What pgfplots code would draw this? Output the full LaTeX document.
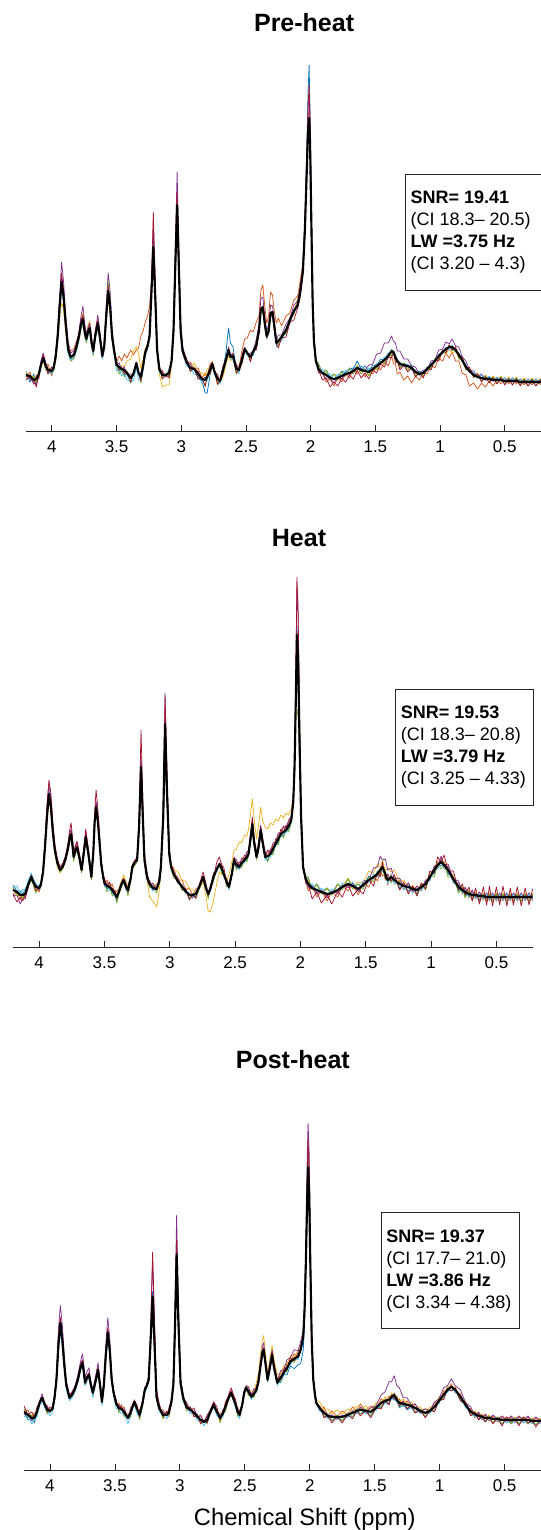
\documentclass[border=0pt]{standalone}
\usepackage{fontspec}
\setmainfont{Liberation Sans}
\usepackage{pgfplots}
\usepackage{pgfplotstable}
\pgfplotsset{compat=1.18}

\definecolor{cB}{rgb}{0,0.447,0.741}
\definecolor{cO}{rgb}{0.85,0.325,0.098}
\definecolor{cY}{rgb}{0.929,0.694,0.125}
\definecolor{cP}{rgb}{0.494,0.184,0.556}
\definecolor{cG}{rgb}{0.466,0.674,0.188}
\definecolor{cL}{rgb}{0.301,0.745,0.933}
\definecolor{cR}{rgb}{0.635,0.078,0.184}

\pgfplotstableread{
x k cb co cy cp cg cl cr
4.20 56 60 51 59 51 58 57 55
4.17 55 49 59 53 54 54 52 52
4.14 51 57 47 55 47 54 52 51
4.12 52 46 56 48 48 49 51 44
4.10 57 61 52 60 54 57 58 58
4.085 66 64 68 63 70 65 62 67
4.067 73 75 72 70 78 71 74 76
4.05 66 68 63 64 70 62 67 65
4.03 61 57 67 58 60 59 59 57
4.00 60 64 55 59 58 58 57 64
3.985 64 61 66 62 65 60 63 62
3.97 75 73 77 70 80 74 72 78
3.955 95 92 97 88 101 94 90 98
3.94 125 126 124 112 135 120 118 130
3.925 149 152 150 128 169 145 143 158
3.91 135 137 138 122 150 130 128 142
3.895 110 108 114 100 120 106 105 113
3.875 82 80 88 78 90 79 77 84
3.855 74 72 80 70 78 70 71 75
3.83 76 74 82 75 80 72 73 77
3.81 84 82 90 86 88 80 81 85
3.79 95 93 98 100 100 91 92 96
3.775 107 105 110 112 115 102 104 110
3.76 112 110 115 118 125 106 108 116
3.745 98 96 101 104 106 94 95 100
3.733 92 90 96 95 97 88 90 93
3.72 100 98 103 106 104 96 98 101
3.707 103 101 106 110 108 99 100 104
3.693 88 86 91 92 93 84 85 88
3.68 80 78 83 84 82 75 77 79
3.665 95 93 97 100 100 92 91 96
3.645 108 106 110 113 116 104 104 110
3.63 95 93 97 99 100 92 91 95
3.61 75 73 77 79 78 72 72 74
3.595 85 83 86 88 90 84 81 86
3.58 115 113 114 112 126 118 110 118
3.565 140 140 138 130 158 150 136 145
3.55 125 124 124 118 140 130 120 128
3.535 95 93 96 92 102 96 91 97
3.52 81 79 84 80 85 80 77 82
3.50 66 66 69 68 66 66 60 70
3.48 64 60 75 63 68 57 62 61
3.46 62 62 70 66 61 61 55 64
3.44 61 56 77 64 64 54 58 57
3.42 58 57 73 70 57 58 51 60
3.39 53 48 81 72 57 48 50 49
3.37 57 57 76 80 56 58 50 59
3.347 68 66 81 84 69 65 63 67
3.33 58 58 83 78 58 58 51 60
3.312 54 49 95 62 58 48 51 50
3.295 65 63 100 72 66 62 60 64
3.28 78 76 108 82 80 75 74 78
3.26 85 84 115 88 87 83 82 86
3.245 95 96 125 95 98 92 92 96
3.23 140 145 150 135 150 138 136 150
3.216 184 196 180 176 206 186 182 219
3.20 130 136 132 126 142 130 128 145
3.187 81 84 82 78 86 80 79 85
3.17 62 65 61 57 62 64 58 66
3.147 56 55 61 44 59 52 57 52
3.12 56 57 54 46 54 57 55 56
3.094 58 55 62 46 60 54 61 53
3.075 70 70 69 65 72 69 70 71
3.06 100 102 97 95 106 99 98 104
3.045 170 176 165 160 190 172 168 180
3.032 226 232 222 218 259 228 224 240
3.02 170 175 166 162 190 172 168 180
3.005 100 103 98 95 110 101 99 105
2.99 80 81 80 78 85 80 79 82
2.96 69 72 69 70 70 71 65 73
2.93 63 60 69 63 67 59 63 60
2.90 62 62 62 68 61 64 57 63
2.87 57 53 63 59 60 53 56 52
2.84 52 50 53 58 51 53 48 53
2.815 51 38 58 55 54 44 51 45
2.80 54 38 55 62 53 55 50 55
2.775 62 58 68 64 65 57 62 58
2.76 67 66 68 70 69 64 65 67
2.745 60 60 59 63 60 60 56 62
2.72 52 48 57 48 55 46 52 47
2.70 50 50 50 50 49 50 47 50
2.68 60 60 64 53 63 55 61 56
2.655 71 78 72 66 73 69 70 71
2.635 81 103 82 76 84 79 80 82
2.62 74 88 75 70 77 73 73 74
2.60 75 84 73 74 76 77 71 78
2.575 62 62 67 58 66 57 62 58
2.555 61 64 63 59 60 63 57 61
2.53 72 70 81 68 76 68 72 68
2.51 82 82 92 80 84 80 81 81
2.49 78 79 93 79 77 79 75 79
2.465 74 71 101 71 78 70 75 69
2.445 79 80 99 80 80 81 75 80
2.42 86 83 109 83 92 82 86 81
2.40 100 99 115 98 106 98 98 98
2.385 122 120 140 118 132 120 119 120
2.37 124 121 146 120 134 122 121 122
2.355 108 106 125 104 114 106 105 106
2.34 95 93 108 92 100 93 92 93
2.325 100 98 115 97 106 98 97 98
2.31 118 116 139 114 126 116 115 116
2.295 119 117 136 115 125 117 116 117
2.28 104 102 118 101 109 102 101 100
2.265 88 88 108 88 90 90 84 87
2.25 90 86 113 86 96 86 90 83
2.225 94 95 105 95 96 96 90 93
2.19 101 98 115 100 107 97 101 94
2.16 111 112 118 114 113 113 107 109
2.13 120 118 131 120 126 116 120 111
2.10 126 128 135 132 130 129 123 123
2.08 140 141 151 145 146 140 139 134
2.06 160 163 168 168 166 161 158 156
2.045 200 208 205 212 210 204 198 200
2.03 260 280 262 265 280 268 258 272
2.02 300 340 305 295 322 300 300 325
2.012 313 366 322 300 336 306 312 346
2.005 290 320 296 282 310 288 290 315
1.995 210 225 212 205 222 210 210 222
1.985 130 135 132 128 136 130 129 134
1.975 90 92 92 88 93 90 89 92
1.96 70 71 72 68 72 70 69 71
1.94 62 66 58 65 58 68 60 62
1.91 58 58 58 57 58 58 62 51
1.88 56 61 49 59 52 61 56 53
1.85 53 54 52 52 52 52 57 44
1.82 52 57 45 57 48 57 52 49
1.79 53 54 53 53 54 51 57 45
1.76 55 60 49 59 52 59 55 53
1.73 57 58 57 57 58 55 61 49
1.70 58 63 53 62 56 62 58 56
1.67 60 62 61 60 63 57 64 52
1.64 63 70 57 66 63 65 63 61
1.61 61 62 61 60 65 57 65 53
1.58 60 65 54 62 61 62 60 58
1.55 59 60 60 56 66 55 63 52
1.52 62 66 57 63 67 64 61 61
1.49 65 65 65 62 77 61 68 58
1.46 68 72 61 69 78 70 67 67
1.43 71 71 69 68 88 67 74 64
1.40 75 78 65 76 88 77 74 74
1.375 80 78 75 76 95 75 82 73
1.36 79 80 67 79 90 80 77 79
1.345 74 71 67 70 88 69 76 68
1.33 70 71 57 70 80 71 68 70
1.31 67 64 59 63 80 63 69 61
1.28 66 68 51 66 72 68 64 66
1.25 65 64 55 61 72 61 67 59
1.22 63 66 48 64 65 65 61 63
1.19 59 58 55 56 64 55 61 54
1.16 57 60 51 58 57 59 55 58
1.13 58 57 59 55 61 54 60 53
1.10 62 64 57 63 61 64 60 63
1.07 66 64 66 63 70 62 68 61
1.04 70 72 63 71 71 72 68 71
1.01 75 73 73 71 81 71 77 70
0.98 79 81 70 79 82 81 77 81
0.955 82 80 78 77 89 78 84 78
0.93 84 85 73 82 87 86 81 86
0.907 84 81 79 78 92 80 86 81
0.88 81 82 70 80 85 83 79 84
0.854 76 74 70 72 84 72 78 74
0.83 71 73 58 71 74 73 69 75
0.80 64 62 56 61 70 61 67 62
0.774 60 62 45 62 61 63 59 64
0.74 56 54 48 55 60 53 59 54
0.71 54 56 42 58 54 57 53 57
0.68 53 52 48 53 57 50 56 49
0.65 52 55 44 56 51 55 51 54
0.62 52 51 50 52 54 49 55 48
0.59 51 54 45 55 50 54 50 53
0.56 51 50 52 51 53 48 54 47
0.53 51 54 47 55 50 53 50 53
0.50 50 49 53 50 53 47 53 46
0.47 50 53 47 54 49 52 49 52
0.44 50 49 53 50 53 46 53 46
0.41 50 53 47 54 49 52 49 52
0.38 49 48 52 49 52 46 52 45
0.35 49 52 46 53 48 52 48 51
0.32 49 48 52 49 52 45 52 45
0.29 49 52 46 53 48 51 48 51
0.26 49 48 52 49 52 45 52 45
0.22 49 52 46 53 48 51 48 51
}\tA

\pgfplotstableread{
x k cb co cy cp cg cl cr
4.20 57 62 52 60 51 59 60 53
4.17 55 56 56 53 52 51 61 45
4.145 52 56 47 53 43 53 53 50
4.125 52 53 53 50 49 48 58 46
4.106 53 58 49 56 48 55 55 53
4.085 62 64 61 63 60 60 66 58
4.06 70 73 69 70 72 67 74 72
4.045 65 67 64 64 67 62 68 67
4.026 60 59 63 56 63 54 64 56
4.00 59 62 55 58 57 59 59 60
3.987 62 63 61 60 63 60 64 62
3.97 75 76 74 72 78 73 75 78
3.955 100 102 99 96 106 98 100 106
3.94 130 133 128 124 140 127 130 142
3.925 153 156 150 148 162 150 152 167
3.91 140 143 138 135 150 137 140 154
3.895 115 118 113 110 122 112 115 124
3.88 97 99 95 93 102 95 97 103
3.86 84 85 83 80 88 82 84 87
3.84 77 77 78 74 80 75 77 80
3.82 80 80 82 78 83 78 80 83
3.80 87 87 89 85 90 85 87 90
3.78 98 98 100 96 101 95 98 103
3.765 110 110 113 108 114 106 110 118
3.755 113 113 116 110 118 108 112 124
3.745 102 102 104 100 106 98 101 110
3.736 90 90 92 88 94 86 89 96
3.72 97 97 99 95 101 94 96 102
3.71 100 100 102 98 104 97 99 106
3.69 88 88 90 86 92 85 87 92
3.675 77 77 79 75 80 74 76 80
3.66 92 92 94 90 96 89 91 97
3.643 110 110 112 108 115 106 109 118
3.625 95 95 97 93 99 92 94 100
3.60 70 70 72 68 73 67 69 73
3.585 95 95 96 93 98 93 94 100
3.575 125 125 126 122 130 122 124 135
3.564 140 140 141 136 146 137 138 157
3.55 125 125 126 122 130 122 124 138
3.535 100 100 101 98 104 98 99 108
3.525 83 83 85 82 86 82 82 88
3.51 70 69 72 70 72 68 69 73
3.498 63 64 63 66 62 63 60 68
3.48 61 58 67 60 64 55 61 60
3.46 60 60 60 63 59 60 56 65
3.44 57 53 63 56 59 51 57 55
3.42 53 53 53 57 51 53 50 57
3.406 50 46 56 50 52 44 52 48
3.39 55 53 57 58 55 52 54 56
3.37 63 61 65 66 62 60 62 64
3.353 67 65 69 72 66 64 66 68
3.335 60 60 59 65 57 60 57 64
3.32 57 53 62 58 58 51 58 55
3.30 68 67 70 70 68 65 67 69
3.287 80 80 82 82 81 77 79 82
3.27 84 84 86 86 85 81 83 86
3.25 87 88 89 88 90 85 87 90
3.235 120 122 120 118 128 118 120 130
3.22 180 185 178 175 190 178 180 217
3.205 125 128 124 122 132 124 125 140
3.194 87 89 87 85 91 86 87 94
3.175 70 73 68 68 70 72 68 76
3.155 63 62 67 50 66 59 64 62
3.13 59 62 58 46 57 61 56 64
3.10 58 57 63 40 60 54 59 57
3.08 66 69 65 57 64 67 63 71
3.068 80 81 81 76 81 77 79 83
3.05 130 133 130 128 140 125 130 140
3.036 223 228 222 220 254 180 224 250
3.02 150 153 150 148 165 140 150 165
3.004 93 95 93 92 98 90 93 98
2.99 80 81 82 82 82 78 80 83
2.97 73 72 79 76 76 69 75 72
2.94 66 68 67 76 64 68 64 70
2.904 60 57 67 66 62 56 62 58
2.88 56 57 57 66 54 58 54 59
2.85 52 49 59 58 54 48 54 47
2.825 52 53 52 58 49 53 50 52
2.80 53 50 58 53 55 48 55 49
2.775 60 59 61 58 61 58 60 62
2.745 70 69 71 65 71 68 69 75
2.725 60 61 58 52 58 61 57 65
2.706 53 50 57 36 55 48 54 51
2.69 58 59 56 35 56 59 55 62
2.666 70 67 74 46 73 65 71 69
2.64 78 79 76 64 77 79 75 85
2.62 83 82 84 75 84 81 82 90
2.60 78 75 82 72 81 73 79 81
2.587 73 74 71 74 72 74 70 80
2.565 65 62 69 66 68 60 66 64
2.547 60 61 58 72 60 61 57 64
2.525 73 72 74 85 75 71 72 75
2.508 87 86 88 97 90 85 86 89
2.49 82 79 87 98 87 77 83 81
2.468 80 81 79 105 81 81 77 85
2.45 84 81 89 104 89 79 85 83
2.428 87 88 86 112 88 88 84 92
2.41 90 87 95 111 95 85 91 89
2.397 93 92 95 118 97 91 92 95
2.38 110 108 112 135 116 107 109 114
2.368 123 120 125 148 130 119 122 128
2.355 105 103 107 128 110 102 104 108
2.336 90 88 92 108 94 87 89 92
2.32 100 98 102 122 105 97 99 103
2.304 117 115 119 140 122 113 116 120
2.29 105 103 107 126 110 102 104 108
2.27 90 90 89 120 92 90 87 95
2.25 91 87 96 118 97 85 92 90
2.23 93 93 92 124 95 93 90 98
2.21 98 94 103 122 104 92 99 97
2.19 103 103 102 128 105 103 100 108
2.17 108 104 113 126 114 102 109 107
2.15 113 113 112 132 115 113 110 118
2.13 115 111 120 129 121 109 116 114
2.11 117 117 116 134 119 117 114 122
2.09 121 117 126 132 127 115 122 120
2.07 127 125 129 138 131 124 126 129
2.055 145 145 147 152 150 148 144 148
2.045 180 182 181 185 188 200 178 185
2.035 250 255 250 252 270 238 248 270
2.027 312 320 315 310 360 238 310 370
2.018 290 298 292 288 330 230 288 340
2.006 200 205 200 198 220 180 198 220
1.995 130 132 130 128 138 125 129 138
1.98 80 81 80 80 83 78 80 83
1.96 68 70 66 69 67 71 68 64
1.94 63 68 56 67 59 70 61 63
1.91 59 59 60 58 61 57 63 48
1.874 57 63 50 62 53 63 55 55
1.84 55 55 56 54 57 53 59 44
1.795 53 59 46 58 49 59 51 52
1.76 54 54 55 53 56 52 58 43
1.715 57 63 50 62 53 63 55 56
1.68 60 59 61 60 62 57 64 50
1.636 63 68 56 69 59 68 61 63
1.60 61 60 62 61 64 58 65 51
1.557 58 63 52 65 55 63 56 58
1.52 62 60 64 64 66 58 65 53
1.477 67 71 60 76 67 70 64 68
1.44 70 68 71 74 79 65 73 61
1.41 73 76 66 83 80 76 70 75
1.39 77 74 77 79 91 71 79 70
1.372 80 82 71 87 87 81 75 85
1.35 73 69 74 76 88 67 75 68
1.332 67 69 62 79 77 70 63 73
1.306 70 66 73 75 79 64 72 66
1.28 67 69 63 77 68 69 63 72
1.24 63 59 67 65 69 57 65 57
1.21 61 63 57 67 60 63 57 65
1.174 60 56 64 59 64 54 62 53
1.14 58 60 54 62 56 60 54 61
1.108 57 53 61 55 61 51 59 51
1.075 60 62 56 64 58 62 56 64
1.042 63 59 67 61 67 57 65 58
1.01 70 72 66 74 68 72 66 76
0.976 77 73 81 75 81 70 79 74
0.95 82 84 78 86 81 83 78 90
0.923 85 81 89 83 91 78 87 85
0.90 82 84 78 86 82 83 78 92
0.87 77 73 81 75 83 70 79 76
0.83 68 70 64 72 68 70 64 76
0.79 60 56 64 58 66 54 62 57
0.76 57 60 53 61 55 59 54 63
0.74 55 51 59 53 60 49 57 52
0.71 53 56 49 57 51 56 50 60
0.685 52 48 56 50 57 46 54 46
0.66 52 54 48 55 50 54 49 59
0.63 51 47 55 49 55 45 53 43
0.60 51 53 47 54 49 53 48 60
0.575 50 46 54 48 54 45 53 42
0.553 50 52 46 54 48 53 47 61
0.53 50 46 54 48 54 45 53 41
0.50 50 52 46 54 48 53 47 60
0.475 50 46 54 48 54 45 53 42
0.45 50 52 46 54 48 53 47 61
0.42 50 46 54 48 54 45 53 41
0.394 50 52 46 54 48 53 47 59
0.37 50 46 54 48 54 45 53 42
0.34 50 52 46 54 48 53 47 60
0.31 50 46 54 48 54 45 53 41
0.28 50 52 46 54 48 53 47 59
0.25 50 46 54 48 54 45 53 42
0.223 50 52 46 54 48 53 47 58
}\tB

\pgfplotstableread{
x k cb co cy cp cg cl cr
4.20 58 58 57 61 55 61 53 64
4.17 55 50 60 54 56 52 54 55
4.14 52 51 51 55 49 55 46 58
4.12 52 47 57 51 54 49 50 52
4.10 58 58 56 61 56 61 53 63
4.08 67 65 68 68 69 66 64 68
4.06 72 70 73 72 76 71 69 73
4.04 65 63 66 65 67 64 62 66
4.02 60 56 64 58 63 56 59 58
4.00 59 59 57 61 58 61 54 63
3.98 61 59 62 61 62 60 58 62
3.965 72 70 73 72 75 71 69 74
3.95 90 88 91 90 96 89 86 93
3.935 125 122 126 124 140 123 118 130
3.92 147 143 148 146 164 145 138 152
3.905 130 127 131 129 145 128 123 134
3.89 105 103 106 104 115 104 100 108
3.875 85 83 86 84 90 84 81 87
3.85 72 71 74 72 75 71 69 74
3.83 75 74 77 75 78 74 72 77
3.81 80 79 82 80 83 79 77 82
3.785 90 89 92 90 95 89 87 92
3.765 102 101 104 102 108 100 99 105
3.75 107 106 109 107 116 105 104 110
3.74 98 97 100 98 106 96 95 100
3.73 87 86 89 87 92 85 84 89
3.715 92 91 94 92 98 90 89 94
3.70 95 94 97 95 102 93 92 97
3.685 85 84 87 85 88 83 82 86
3.67 77 76 79 77 80 75 72 78
3.65 88 87 90 88 93 86 85 89
3.63 100 99 102 100 107 98 97 102
3.615 85 84 87 85 89 83 82 86
3.60 68 67 70 68 71 66 64 69
3.585 85 84 86 85 90 86 82 87
3.57 115 113 116 114 125 118 110 118
3.555 137 134 138 135 152 140 130 142
3.54 120 118 121 118 132 122 115 124
3.525 90 89 91 89 96 91 87 92
3.51 77 76 78 76 80 77 74 78
3.49 66 67 65 68 66 68 61 70
3.47 62 59 67 60 65 57 61 60
3.45 61 62 60 63 60 62 56 65
3.43 58 55 63 56 61 53 57 56
3.40 52 53 51 54 51 53 46 56
3.38 57 54 62 55 60 52 55 55
3.365 63 62 65 63 64 61 60 64
3.35 68 67 70 68 69 66 65 69
3.33 61 62 60 63 60 62 56 65
3.31 55 52 60 53 58 50 53 53
3.29 65 64 67 65 66 63 62 66
3.27 80 79 82 80 82 78 77 81
3.255 84 83 86 84 86 82 81 85
3.24 90 90 92 90 94 88 88 92
3.225 130 132 131 129 140 128 128 140
3.21 173 178 172 170 210 172 170 217
3.195 125 128 124 122 145 124 123 148
3.18 73 75 74 72 80 72 72 80
3.16 62 65 60 63 62 64 58 67
3.13 55 54 60 52 58 51 55 53
3.10 55 58 54 56 54 57 51 59
3.085 57 56 62 54 60 53 57 55
3.065 68 69 70 67 70 67 66 69
3.05 85 86 86 84 90 84 83 88
3.038 140 142 140 138 160 138 138 150
3.025 215 220 214 212 254 214 212 230
3.012 150 152 150 148 170 148 148 160
2.995 87 88 88 86 92 86 85 90
2.975 72 75 71 74 73 74 68 76
2.95 63 62 68 61 67 59 63 61
2.92 60 63 59 62 60 62 56 63
2.89 57 56 62 55 61 53 57 53
2.865 53 56 52 55 53 55 49 55
2.84 50 48 55 48 54 46 50 46
2.815 48 48 47 50 48 50 44 50
2.79 50 47 55 48 54 46 50 47
2.765 58 57 60 58 60 57 56 60
2.74 65 64 67 65 68 63 63 68
2.715 58 59 57 59 58 59 54 63
2.69 52 49 57 48 55 47 52 50
2.67 56 57 55 56 55 57 52 60
2.65 63 60 68 59 66 58 63 61
2.625 72 71 74 70 74 70 70 75
2.605 77 76 79 75 79 75 75 82
2.59 72 71 74 70 74 70 70 76
2.57 65 66 64 65 65 66 61 70
2.555 58 55 63 54 62 53 58 56
2.54 55 56 54 55 55 56 51 59
2.52 65 64 67 66 67 64 64 66
2.505 77 76 79 78 79 76 76 78
2.49 82 81 84 84 84 81 81 83
2.47 78 75 83 79 82 74 79 76
2.45 73 74 72 79 74 75 70 77
2.43 76 73 81 78 81 72 77 74
2.41 80 81 79 88 81 82 77 84
2.395 88 87 90 96 92 87 87 89
2.38 103 101 105 115 108 102 102 104
2.365 117 115 119 130 123 116 116 118
2.355 120 118 122 134 127 119 119 122
2.34 105 103 107 115 110 104 104 106
2.325 90 88 92 98 94 89 89 91
2.31 100 98 102 108 105 99 99 102
2.29 115 113 117 124 120 114 114 118
2.275 102 100 104 110 106 101 101 104
2.25 87 87 86 95 89 89 84 91
2.225 92 87 97 96 99 88 93 90
2.20 97 95 96 104 100 99 94 101
2.175 102 95 107 105 110 98 103 100
2.15 108 104 107 114 112 110 105 112
2.12 111 101 116 113 120 107 112 109
2.09 113 105 112 119 119 115 110 117
2.07 120 106 122 124 128 119 119 121
2.05 133 120 135 138 140 133 132 134
2.04 160 150 162 168 168 165 158 162
2.03 207 205 210 220 225 218 204 212
2.02 270 280 275 275 310 272 268 290
2.013 302 318 312 300 346 305 300 330
2.005 280 292 288 278 318 282 278 302
1.995 200 205 202 198 220 200 198 210
1.985 130 132 131 129 138 130 129 134
1.973 90 91 91 90 93 89 89 92
1.96 75 75 77 78 76 74 74 75
1.95 67 66 69 70 67 66 66 67
1.92 61 61 60 67 59 63 58 63
1.89 57 53 63 60 59 53 58 52
1.86 54 54 54 61 52 56 51 54
1.83 53 49 59 56 55 49 54 47
1.79 53 53 53 60 51 55 50 53
1.75 53 49 59 56 55 49 54 47
1.71 55 55 55 61 53 57 52 55
1.67 57 53 63 59 59 53 58 51
1.64 59 59 59 64 57 61 56 59
1.61 60 56 66 61 63 56 61 54
1.57 59 59 59 64 58 61 56 59
1.53 58 54 64 59 62 54 59 52
1.49 62 62 61 67 64 64 59 62
1.45 67 62 71 67 75 63 68 61
1.42 69 68 67 73 78 71 66 70
1.39 70 65 74 70 88 66 71 65
1.37 73 72 70 77 88 75 70 75
1.35 75 70 77 74 94 71 76 71
1.33 70 69 67 74 84 72 67 73
1.31 67 62 71 68 82 63 68 64
1.28 66 65 64 71 72 68 63 69
1.25 65 60 69 66 72 61 66 61
1.22 64 63 62 68 65 66 61 65
1.19 62 57 66 62 66 58 63 57
1.15 59 59 57 63 59 61 56 60
1.11 57 53 61 57 61 53 58 52
1.075 59 59 57 63 59 61 56 60
1.04 63 59 67 63 68 59 64 58
1.005 69 69 67 73 71 71 66 70
0.97 75 71 79 75 82 71 76 70
0.94 80 80 78 84 84 82 77 81
0.91 83 79 86 82 91 79 84 79
0.88 80 80 77 83 84 82 77 82
0.84 73 69 76 72 80 69 74 69
0.80 65 65 62 68 67 67 62 67
0.76 58 54 61 57 63 54 59 54
0.73 56 56 52 59 54 58 53 58
0.70 54 50 57 53 58 50 55 50
0.675 53 53 50 56 52 55 51 55
0.65 52 48 55 51 56 48 53 48
0.62 52 52 49 55 51 54 50 53
0.59 51 47 54 50 55 47 52 46
0.555 51 51 48 53 51 53 49 52
0.52 50 46 53 49 54 46 51 44
0.485 50 50 47 53 50 52 47 53
0.45 50 46 53 49 54 46 51 48
0.42 50 50 47 53 50 52 47 51
0.39 50 46 53 49 54 46 51 44
0.355 50 50 47 53 50 52 47 53
0.32 50 46 53 49 54 46 51 47
0.29 49 49 46 52 49 51 46 50
0.26 49 45 52 48 53 45 50 43
0.22 49 49 46 52 49 51 46 50
}\tC

\newcommand\spectra[1]{%
  \addplot[cB] table[x=x,y=cb]{#1};
  \addplot[cO] table[x=x,y=co]{#1};
  \addplot[cY] table[x=x,y=cy]{#1};
  \addplot[cP] table[x=x,y=cp]{#1};
  \addplot[cG] table[x=x,y=cg]{#1};
  \addplot[cL] table[x=x,y=cl]{#1};
  \addplot[cR] table[x=x,y=cr]{#1};
  \addplot[black, line width=1.6pt] table[x=x,y=k]{#1};
}

\newcommand\infobox[5]{%
  \node[draw=black!85, line width=0.6pt, anchor=north west, minimum width=103.5pt,
        minimum height=87pt, inner sep=0pt] (bx) at (rel axis cs:#1) {};
  \node[anchor=west, xshift=4pt, align=left, inner sep=0pt,
        font=\fontsize{13.5}{16.5}\selectfont] at (bx.west)
       {\textbf{#2}\\#3\\\textbf{#4}\\#5};
}

\pgfplotsset{
  spec/.style={
    scale only axis, x dir=reverse, xmin=0.22, xmax=4.2, ymin=0,
    axis x line=bottom, axis y line=none,
    x axis line style={-, line width=0.6pt, black!85},
    xtick={0.5,1,1.5,2,2.5,3,3.5,4},
    tick align=inside, major tick length=4.5pt,
    tick style={line width=0.6pt, black!85},
    /pgf/number format/assume math mode=true,
    xticklabel style={font=\fontsize{12.75}{14}\selectfont, yshift=-4pt},
    title style={font=\bfseries\fontsize{18.75}{20}\selectfont, anchor=base, yshift=4.5pt},
    clip mode=individual,
    every axis plot/.append style={line width=0.55pt, line join=round, mark=none},
  }
}

\begin{document}
\begin{tikzpicture}
\path[use as bounding box] (0,0) rectangle (405.75pt,-1147.5pt);

\begin{axis}[spec, at={(19.5pt,-323.25pt)}, anchor=south west,
  width=386.25pt, height=288.75pt, ymax=385,
  title={Pre-heat}, title style={at={(0.54,1)}}]
\spectra{\tA}
\infobox{0.736,0.668}{SNR= 19.41}{(CI 18.3– 20.5)}{LW =3.75 Hz}{(CI 3.20 – 4.3)}
\end{axis}

\begin{axis}[spec, at={(9.75pt,-710.25pt)}, anchor=south west,
  width=390pt, height=290.25pt, ymax=387,
  title={Heat}, title style={at={(0.55,1)}}]
\spectra{\tB}
\infobox{0.735,0.667}{SNR= 19.53}{(CI 18.3– 20.8)}{LW =3.79 Hz}{(CI 3.25 – 4.33)}
\end{axis}

\begin{axis}[spec, at={(18pt,-1102.5pt)}, anchor=south west,
  width=387.75pt, height=289.5pt, ymax=386,
  title={Post-heat}, title style={at={(0.52,1)}},
  xlabel={Chemical Shift (ppm)},
  xlabel style={font=\fontsize{17.8}{20}\selectfont, at={(axis description cs:0.543,0)}, anchor=base, yshift=-41.25pt}]
\spectra{\tC}
\infobox{0.69,0.666}{SNR= 19.37}{(CI 17.7– 21.0)}{LW =3.86 Hz}{(CI 3.34 – 4.38)}
\end{axis}
\end{tikzpicture}
\end{document}
